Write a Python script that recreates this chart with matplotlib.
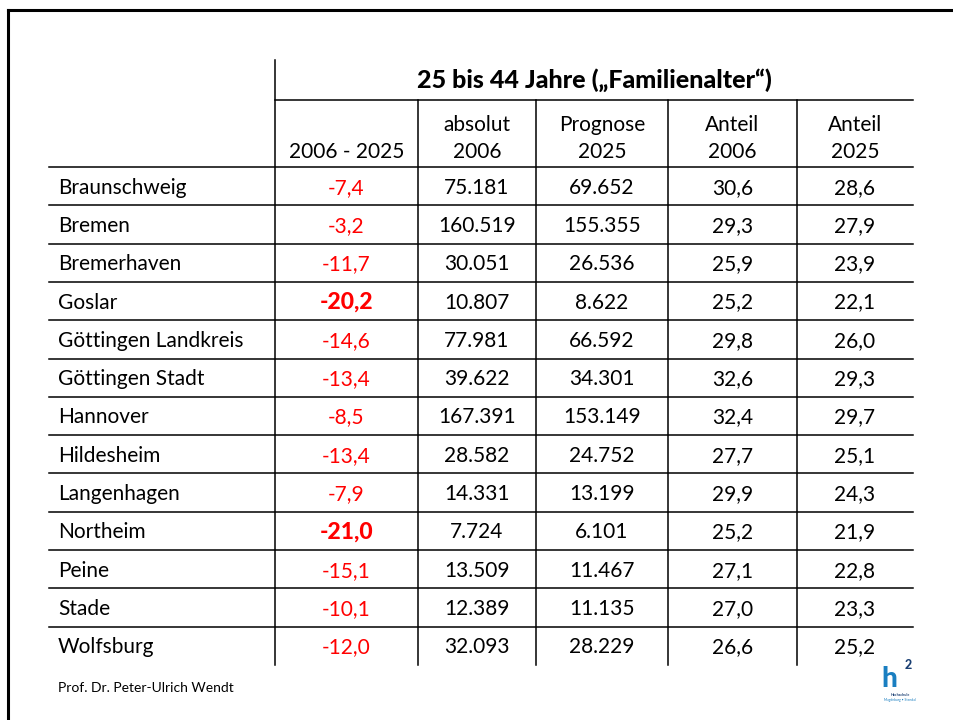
import matplotlib.pyplot as plt

# Daten
orte = ['Braunschweig', 'Bremen', 'Bremerhaven', 'Goslar', 'Göttingen Landkreis',
        'Göttingen Stadt', 'Hannover', 'Hildesheim', 'Langenhagen', 'Northeim',
        'Peine', 'Stade', 'Wolfsburg']
veraenderung = [-7.4, -3.2, -11.7, -20.2, -14.6, -13.4, -8.5, -13.4, -7.9, -21.0, -15.1, -10.1, -12.0]
absolut_2006 = [75181, 160519, 30051, 10807, 77981, 39622, 167391, 28582, 14331, 7724, 13509, 12389, 32093]
prognose_2025 = [69652, 155355, 26536, 8622, 66592, 34301, 153149, 24752, 13199, 6101, 11467, 11135, 28229]
anteil_2006 = [30.6, 29.3, 25.9, 25.2, 29.8, 32.6, 32.4, 27.7, 29.9, 25.2, 27.1, 27.0, 26.6]
anteil_2025 = [28.6, 27.9, 23.9, 22.1, 26.0, 29.3, 29.7, 25.1, 24.3, 21.9, 22.8, 23.3, 25.2]

titel = '25 bis 44 Jahre (\u201eFamilienalter\u201c)'
kopf = ['2006 - 2025', 'absolut\n2006', 'Prognose\n2025', 'Anteil\n2006', 'Anteil\n2025']
autor = 'Prof. Dr. Peter-Ulrich Wendt'

plt.rcParams['font.family'] = ['Lato', 'DejaVu Sans']


def tausend(v):
    return f'{v:,}'.replace(',', '.')


def komma(v):
    return f'{v:.1f}'.replace('.', ',')


fig = plt.figure(figsize=(9.54, 7.2), dpi=100)
ax = fig.add_axes([0, 0, 1, 1])
ax.set_xlim(0, 954)
ax.set_ylim(720, 0)
ax.axis('off')

# Rahmen
ax.plot([8, 954], [10, 10], color='black', lw=2.2)
ax.plot([8, 8], [10, 720], color='black', lw=2.2)

# Tabellengeometrie
spalten = [275, 418, 536, 668, 797, 913]
links = 49
kopf_unten = 167
zeile_h = 38.3
n = len(orte)
unten = kopf_unten + n * zeile_h
lw = 1.1

ax.plot([spalten[0], spalten[0]], [60, unten], color='black', lw=lw)
ax.plot([spalten[0], spalten[-1]], [100, 100], color='black', lw=lw)
for x in spalten[1:-1]:
    ax.plot([x, x], [100, unten], color='black', lw=lw)
for i in range(n):
    y = kopf_unten + i * zeile_h
    ax.plot([links, spalten[-1]], [y, y], color='black', lw=lw)

mitten = [(spalten[i] + spalten[i + 1]) / 2 for i in range(5)]

ax.text((spalten[0] + spalten[-1]) / 2, 80, titel, ha='center', va='center',
        fontsize=18, fontweight='black')
for j, k in enumerate(kopf):
    ax.text(mitten[j], 158, k, ha='center', va='baseline', fontsize=15,
            linespacing=1.45)

for i in range(n):
    yc = kopf_unten + (i + 0.5) * zeile_h + 1.5
    ax.text(58, yc, orte[i], ha='left', va='center', fontsize=15)
    stark = veraenderung[i] <= -20
    ax.text(mitten[0], yc, komma(veraenderung[i]), ha='center', va='center',
            fontsize=16.5 if stark else 15, color='#ff0000',
            fontweight='black' if stark else 'normal')
    werte = [tausend(absolut_2006[i]), tausend(prognose_2025[i]),
             komma(anteil_2006[i]), komma(anteil_2025[i])]
    for j, w in enumerate(werte):
        ax.text(mitten[j + 1], yc, w, ha='center', va='center', fontsize=15)

ax.text(58, 688, autor, ha='left', va='center', fontsize=10)

# Logo (vereinfacht)
ax.text(889, 687, 'h', ha='center', va='baseline', fontsize=20, fontweight='black',
        color='#1a7fc1')
ax.text(908, 665, '2', ha='center', va='center', fontsize=9, fontweight='black',
        color='#1a3f73')
ax.text(900, 695, 'Hochschule', ha='center', va='center', fontsize=2.6,
        fontweight='bold', color='#1a3f73')
ax.text(900, 700.5, 'Magdeburg \u2022 Stendal', ha='center', va='center', fontsize=2.4,
        color='#1a7fc1')

fig.savefig('out.png', dpi=100)
